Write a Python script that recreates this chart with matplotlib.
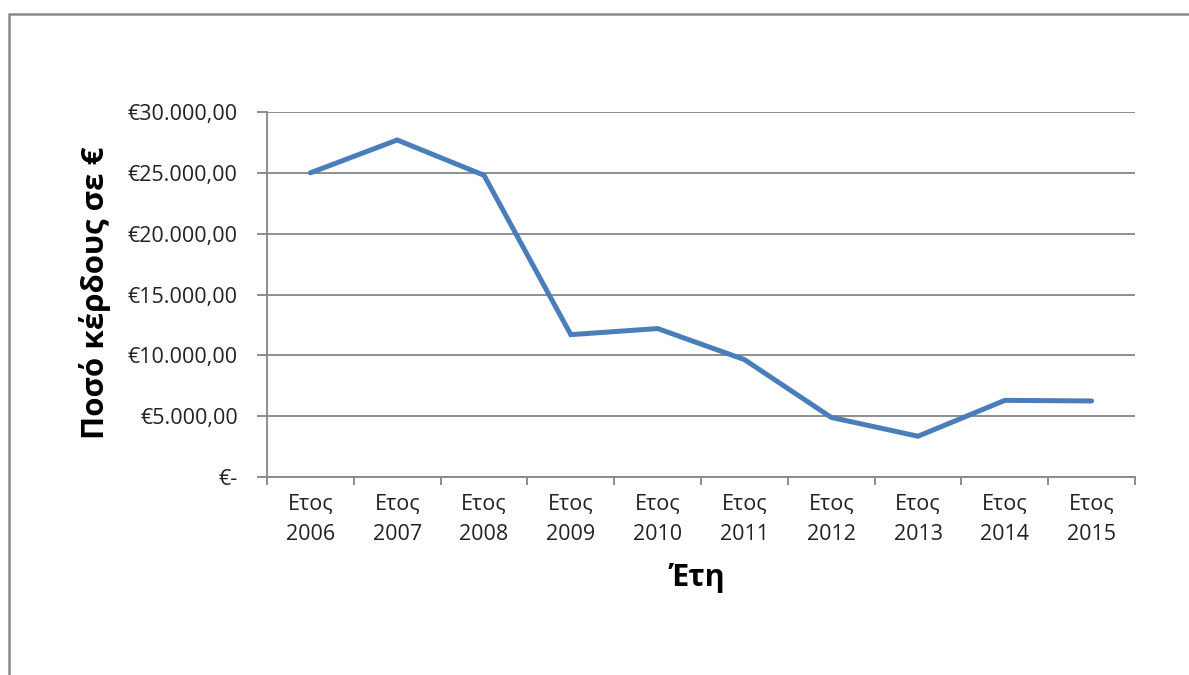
import matplotlib
matplotlib.use("Agg")
import matplotlib.pyplot as plt
from matplotlib.patches import Rectangle
from matplotlib.ticker import FuncFormatter, FixedLocator

# χρονιές και κέρδος σε ευρώ
years = ["Ετος\n2006", "Ετος\n2007", "Ετος\n2008", "Ετος\n2009", "Ετος\n2010",
         "Ετος\n2011", "Ετος\n2012", "Ετος\n2013", "Ετος\n2014", "Ετος\n2015"]
profit = [25000, 27700, 24800, 11700, 12200, 9650, 4900, 3350, 6300, 6250]
y_ticks = [0, 5000, 10000, 15000, 20000, 25000, 30000]

plt.rcParams['font.family'] = ['Open Sans', 'DejaVu Sans']

GRID = "#868686"
LINE = "#4a7ebb"


def euro(v, pos=None):
    if v == 0:
        return "€-"
    s = f"{v:,.2f}"
    s = s.replace(",", "X").replace(".", ",").replace("X", ".")
    return "€" + s


fig = plt.figure(figsize=(11.89, 6.75), dpi=100)
fig.patches.append(Rectangle((9 / 1189, -0.1), 1.2, 1.1 - 14 / 675,
                             transform=fig.transFigure, fill=False,
                             edgecolor="#8a8a8a", linewidth=1.8))

ax = fig.add_axes([267 / 1189, 1 - 477 / 675, (1135 - 267) / 1189, (477 - 112) / 675])
x = list(range(len(years)))
ax.plot(x, profit, color=LINE, linewidth=3.6, solid_joinstyle="miter", solid_capstyle="round")

ax.set_xlim(-0.5, len(years) - 0.5)
ax.set_ylim(0, 30000)
ax.set_yticks(y_ticks)
ax.yaxis.set_major_formatter(FuncFormatter(euro))
ax.grid(axis="y", color=GRID, linewidth=1.3)
ax.set_axisbelow(True)

# τικ ανάμεσα στις κατηγορίες, ετικέτες στο κέντρο
ax.set_xticks([i + 0.5 for i in range(-1, len(years))])
ax.set_xticklabels([])
ax.xaxis.set_minor_locator(FixedLocator(x))
ax.set_xticklabels(years, minor=True, fontsize=15.5, color="#222222", linespacing=1.6)
ax.tick_params(axis="x", which="minor", length=0, pad=12)
ax.tick_params(axis="x", which="major", length=6, width=1.3, color=GRID)
ax.tick_params(axis="y", length=7, width=1.3, color=GRID, labelsize=15.5,
               labelcolor="#222222", pad=14)

for side in ["top", "right"]:
    ax.spines[side].set_visible(False)
for side in ["left", "bottom"]:
    ax.spines[side].set_color(GRID)
    ax.spines[side].set_linewidth(1.3)

fig.text(95 / 1189, 1 - 293 / 675, "Ποσό κέρδους σε €", rotation=90,
         ha="center", va="center", fontsize=22.5, fontweight="bold")
fig.text(697 / 1189, 1 - 578 / 675, "Έτη", ha="center", va="center",
         fontsize=22, fontweight="bold")

fig.savefig("out.png", dpi=100)
